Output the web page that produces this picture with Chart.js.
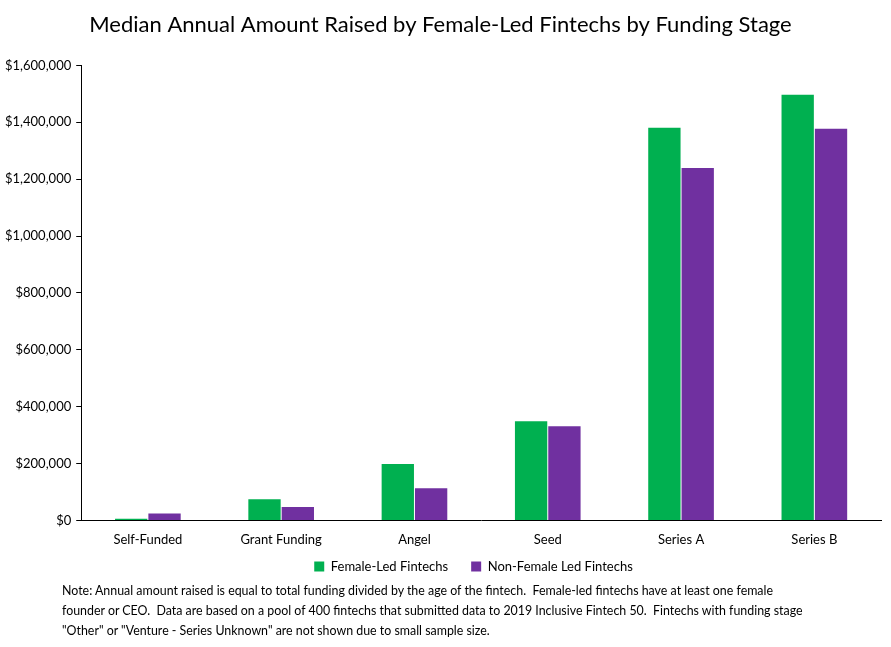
<!DOCTYPE html>
<html>
<head>
<meta charset="utf-8">
<script src="https://cdn.jsdelivr.net/npm/chart.js@4"></script>
<style>
  body { margin:0; background:#fff; }
  #wrap { position:relative; width:891px; height:647px; }
  #note { position:absolute; left:62px; top:581px; width:820px; font-family:Lato, "Open Sans", sans-serif; font-size:12.4px; line-height:20px; color:#000; white-space:nowrap; }
</style>
</head>
<body>
<div id="wrap">
  <canvas id="myChart" width="891" height="647"></canvas>
  <div id="note">Note: Annual amount raised is equal to total funding divided by the age of the fintech.&nbsp; Female-led fintechs have at least one female<br>founder or CEO.&nbsp; Data are based on a pool of 400 fintechs that submitted data to 2019 Inclusive Fintech 50.&nbsp; Fintechs with funding stage<br>"Other" or "Venture - Series Unknown" are not shown due to small sample size.</div>
</div>
<script>
var stages = ['Self-Funded', 'Grant Funding', 'Angel', 'Seed', 'Series A', 'Series B'];
var femaleLed = [6000, 74000, 198000, 349000, 1381000, 1497000];
var nonFemaleLed = [24000, 47000, 113000, 331000, 1239000, 1377000];
var yTicks = [0, 200000, 400000, 600000, 800000, 1000000, 1200000, 1400000, 1600000];

var font = 'Lato, "Open Sans", sans-serif';
Chart.defaults.font.family = font;
Chart.defaults.color = '#000';

// nudge the legend up closer to the axis labels, like the excel original
var legendShift = {
	id: 'legendShift',
	afterLayout: function(chart) {
		var lg = chart.legend;
		lg.top -= 23; lg.bottom -= 23;
		lg.left += 33; lg.right += 33;
	}
};

var ctx = document.getElementById('myChart').getContext('2d');
var myChart = new Chart(ctx, {
	type: 'bar',
	data: {
		labels: stages,
		datasets: [
			{label: 'Female-Led Fintechs', data: femaleLed, backgroundColor: '#00b050', borderWidth: 0,
				categoryPercentage: 0.5, barPercentage: 0.97},
			{label: 'Non-Female Led Fintechs', data: nonFemaleLed, backgroundColor: '#7030a0', borderWidth: 0,
				categoryPercentage: 0.5, barPercentage: 0.97}
		]
	},
	plugins: [legendShift],
	options: {
		responsive: false,
		animation: false,
		layout: {padding: {left: 0, right: 10, top: 0, bottom: 41}},
		plugins: {
			title: {
				display: true,
				text: 'Median Annual Amount Raised by Female-Led Fintechs by Funding Stage',
				font: {size: 22, weight: 'normal'},
				color: '#000',
				padding: {top: 12, bottom: 27}
			},
			legend: {
				position: 'bottom',
				labels: {boxWidth: 10, boxHeight: 10, font: {size: 13}, padding: 23}
			},
			tooltip: {enabled: false}
		},
		scales: {
			x: {
				grid: {display: false, drawTicks: false},
				border: {color: '#000'},
				ticks: {font: {size: 13}, padding: 12}
			},
			y: {
				min: 0,
				max: 1600000,
				afterBuildTicks: function(axis) {
					axis.ticks = yTicks.map(function(v){ return {value: v}; });
				},
				grid: {drawOnChartArea: false, tickLength: 5, color: '#000'},
				border: {color: '#000'},
				ticks: {
					font: {size: 13},
					padding: 5,
					callback: function(v){ return '$' + Number(v).toLocaleString('en-US'); }
				}
			}
		}
	}
});
</script>
</body>
</html>
